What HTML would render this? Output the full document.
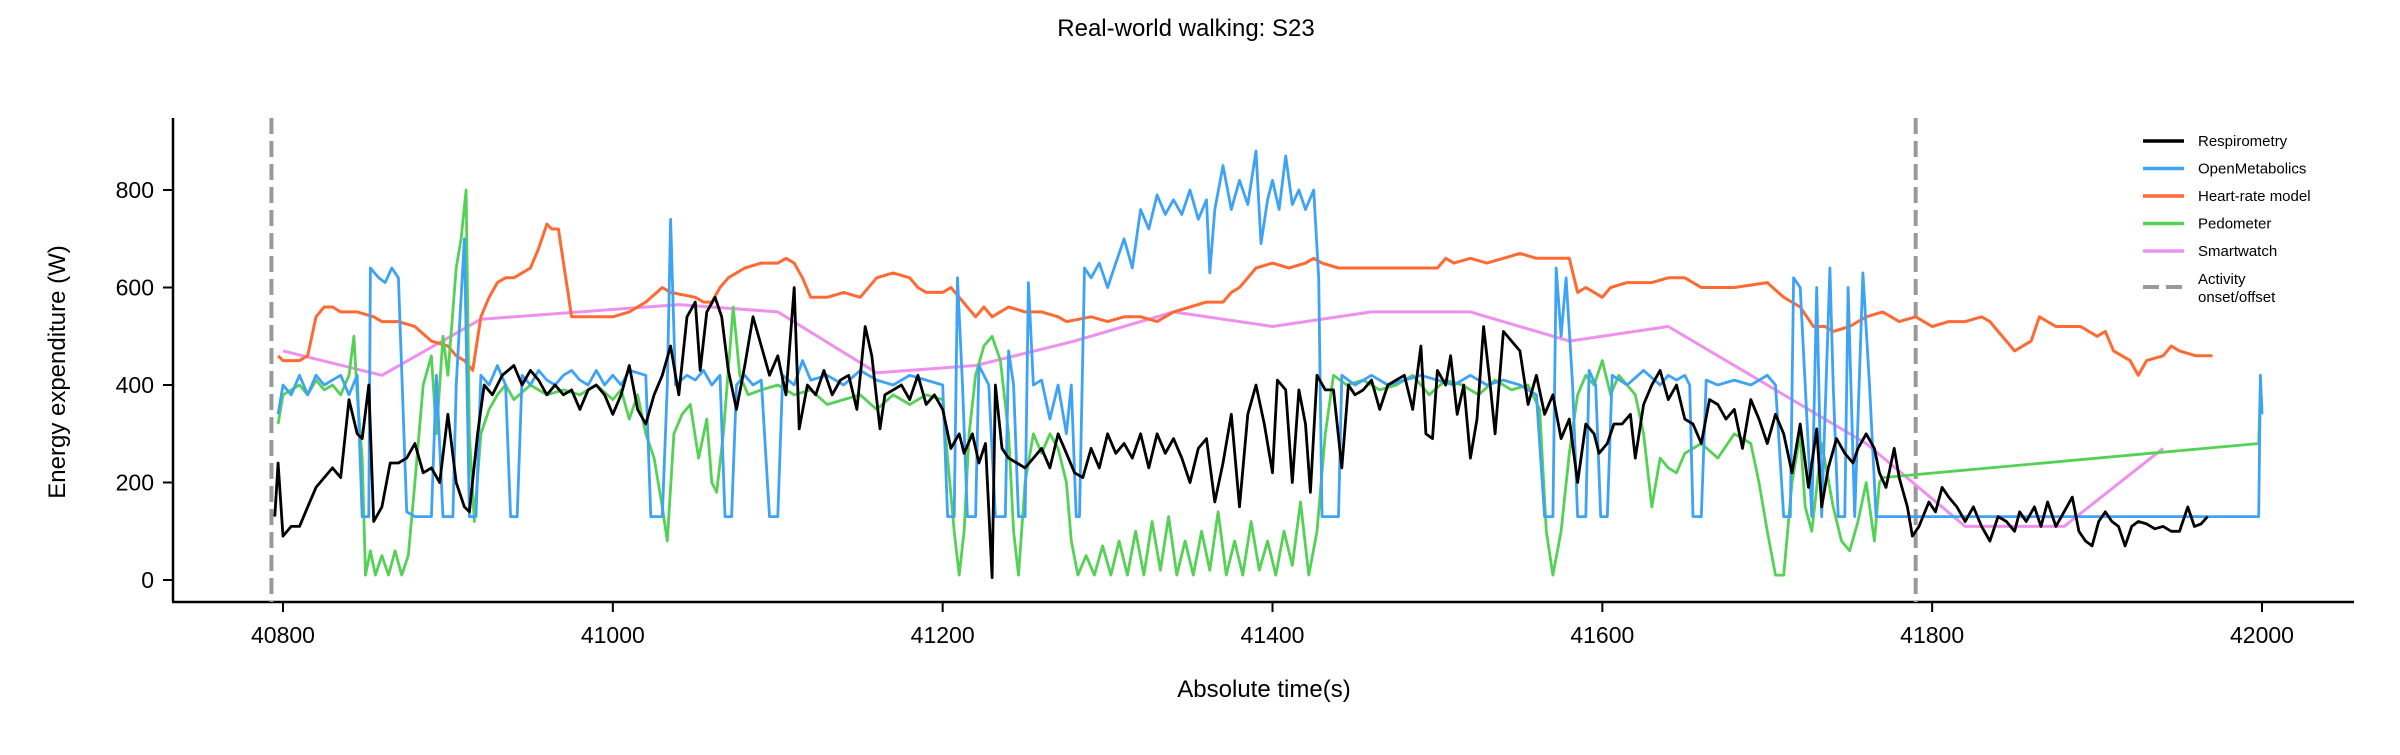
<!DOCTYPE html>
<html><head><meta charset="utf-8"><style>
body{margin:0;background:#fff;}
svg text{font-family:"Liberation Sans",sans-serif;fill:#000;}
</style></head><body>
<svg id="chart" width="2400" height="750" viewBox="0 0 2400 750" xmlns="http://www.w3.org/2000/svg">
<text x="1186" y="36" font-size="24" text-anchor="middle">Real-world walking: S23</text>
<g id="axes"></g>
<g id="plot"></g>
<g id="legend"></g>
</svg>
<script>
const xTicks=[40800,41000,41200,41400,41600,41800,42000];
const yTicks=[0,200,400,600,800];
const eventTimes=[40793,41790];
const respT=[40795,40797,40800,40805,40810,40815,40820,40825,40830,40835,40840,40845,40848,40852,40855,40860,40865,40870,40875,40880,40885,40890,40895,40900,40905,40910,40913,40918,40922,40927,40933,40940,40945,40950,40955,40960,40965,40970,40975,40980,40985,40990,40995,41000,41005,41010,41015,41020,41025,41030,41035,41040,41045,41050,41053,41057,41062,41066,41070,41075,41080,41085,41090,41095,41100,41105,41110,41113,41118,41123,41128,41133,41138,41143,41148,41153,41157,41162,41165,41170,41175,41180,41185,41190,41195,41200,41205,41210,41213,41218,41222,41226,41230,41232,41236,41240,41245,41250,41255,41260,41265,41270,41275,41280,41285,41290,41295,41300,41305,41310,41315,41320,41325,41330,41335,41340,41345,41350,41355,41360,41365,41370,41375,41380,41385,41390,41395,41400,41403,41408,41412,41416,41420,41423,41427,41432,41437,41442,41446,41450,41455,41460,41465,41470,41475,41480,41485,41490,41493,41497,41500,41505,41508,41512,41516,41520,41524,41528,41532,41535,41540,41545,41550,41555,41560,41565,41570,41575,41580,41585,41590,41595,41598,41603,41607,41612,41617,41620,41625,41630,41635,41640,41645,41650,41655,41660,41665,41670,41675,41680,41685,41690,41695,41700,41705,41710,41715,41720,41725,41730,41733,41737,41742,41747,41752,41755,41760,41765,41768,41772,41777,41780,41785,41788,41792,41798,41802,41806,41810,41815,41820,41825,41830,41835,41840,41845,41850,41853,41857,41862,41866,41870,41875,41880,41885,41889,41893,41897,41901,41905,41909,41913,41917,41921,41925,41930,41935,41940,41945,41950,41955,41959,41963,41967];
const respV=[130,240,90,110,110,150,190,210,230,210,370,300,290,400,120,150,240,240,250,280,220,230,200,340,200,150,140,300,400,380,420,440,400,430,410,380,400,380,390,350,390,400,380,340,380,440,350,320,380,420,480,380,540,570,430,550,580,540,430,350,440,540,480,420,460,380,600,310,400,380,430,380,410,420,350,520,460,310,380,390,400,370,420,360,380,350,270,300,260,300,240,280,5,400,270,250,240,230,250,270,230,300,260,220,210,270,230,300,260,280,250,300,230,300,260,290,250,200,270,290,160,240,340,150,340,400,320,220,410,390,200,390,320,180,420,390,390,230,400,380,390,410,350,400,410,420,350,480,300,290,430,400,460,340,400,250,330,520,400,300,510,490,470,360,420,340,380,290,330,200,320,300,260,280,320,320,340,250,360,400,430,370,400,330,320,280,370,360,330,350,270,370,330,280,340,300,220,320,190,310,150,230,290,260,240,270,300,270,220,190,270,210,150,90,110,160,140,190,170,150,120,150,110,80,130,120,100,140,120,150,110,160,110,140,170,100,80,70,120,140,120,110,70,110,120,115,105,110,100,100,150,110,115,130];
const omT=[40797,40800,40805,40810,40815,40820,40825,40830,40835,40840,40845,40848,40852,40853,40858,40862,40866,40870,40875,40880,40890,40893,40897,40903,40905,40910,40913,40917,40920,40925,40930,40935,40938,40942,40945,40950,40955,40960,40965,40970,40975,40980,40985,40990,40995,41000,41005,41010,41020,41023,41030,41033,41035,41038,41045,41050,41055,41060,41065,41068,41072,41075,41080,41085,41090,41095,41100,41103,41110,41115,41120,41130,41140,41150,41160,41170,41180,41190,41200,41203,41207,41209,41212,41215,41220,41222,41225,41228,41232,41238,41240,41243,41246,41250,41252,41255,41260,41265,41270,41275,41278,41281,41283,41286,41290,41295,41300,41305,41310,41315,41320,41325,41330,41335,41340,41345,41350,41355,41360,41362,41365,41370,41375,41380,41385,41390,41393,41397,41400,41404,41408,41412,41416,41420,41425,41428,41430,41440,41442,41450,41460,41470,41480,41490,41500,41510,41520,41530,41540,41550,41560,41565,41570,41572,41575,41578,41582,41585,41590,41592,41596,41599,41603,41606,41615,41625,41635,41640,41645,41650,41653,41655,41660,41663,41670,41680,41690,41700,41705,41710,41714,41716,41720,41723,41727,41730,41733,41738,41740,41743,41747,41749,41753,41758,41762,41766,41998,41999,42000];
const omV=[340,400,380,420,380,420,400,410,420,380,420,130,130,640,620,610,640,620,140,130,130,420,130,130,400,700,130,130,420,400,440,400,130,130,420,400,430,410,400,420,430,410,400,430,400,420,400,430,420,130,130,400,740,400,420,410,430,400,420,130,130,400,420,400,410,130,130,420,400,450,410,420,400,430,410,400,420,410,400,130,130,620,400,130,130,440,420,400,130,130,470,400,130,130,610,400,410,330,400,300,400,130,130,640,620,650,600,650,700,640,760,720,790,750,780,750,800,740,780,630,760,850,760,820,770,880,690,780,820,760,870,770,800,760,800,620,130,130,420,400,420,400,410,420,410,400,420,400,410,400,380,130,130,640,500,620,400,130,130,430,400,130,130,420,400,430,400,420,410,420,400,130,130,410,400,410,400,420,400,130,130,620,600,400,130,600,130,640,400,130,130,600,130,630,400,130,130,420,340];
const hrT=[40797,40800,40810,40815,40820,40825,40830,40835,40845,40855,40860,40870,40880,40890,40900,40905,40910,40915,40920,40925,40930,40935,40940,40945,40950,40955,40960,40963,40967,40975,40990,41000,41010,41020,41030,41035,41050,41055,41060,41065,41070,41075,41080,41090,41100,41105,41110,41115,41120,41130,41140,41150,41160,41170,41180,41185,41190,41200,41205,41210,41220,41225,41230,41240,41250,41260,41270,41275,41290,41300,41310,41320,41330,41340,41350,41360,41370,41375,41380,41385,41390,41400,41410,41420,41425,41430,41440,41500,41505,41510,41520,41530,41540,41550,41560,41570,41580,41585,41590,41595,41600,41605,41615,41630,41640,41650,41660,41680,41700,41710,41720,41728,41735,41740,41750,41760,41770,41780,41790,41800,41810,41820,41830,41835,41840,41845,41850,41860,41865,41875,41890,41900,41905,41910,41920,41925,41930,41940,41945,41950,41960,41970];
const hrV=[460,450,450,460,540,560,560,550,550,540,530,530,520,490,480,460,450,430,540,580,610,620,620,630,640,680,730,720,720,540,540,540,550,570,600,590,580,570,570,600,620,630,640,650,650,660,650,620,580,580,590,580,620,630,620,600,590,590,600,580,540,560,540,560,550,550,540,530,540,530,540,540,530,550,560,570,570,590,600,620,640,650,640,650,660,650,640,640,660,650,660,650,660,670,660,660,660,590,600,590,580,600,610,610,620,620,600,600,610,580,560,520,520,510,520,540,550,530,540,520,530,530,540,530,510,490,470,490,540,520,520,500,510,470,450,420,450,460,480,470,460,460];
const pedT=[40797,40800,40805,40810,40815,40820,40825,40830,40835,40840,40843,40845,40848,40850,40853,40856,40860,40864,40868,40872,40876,40880,40885,40890,40893,40897,40900,40905,40908,40911,40913,40916,40920,40925,40930,40935,40940,40950,40960,40970,40980,40990,41000,41005,41010,41015,41020,41025,41030,41033,41037,41042,41047,41052,41057,41060,41063,41067,41070,41073,41077,41082,41090,41100,41110,41120,41130,41140,41150,41160,41170,41180,41190,41200,41203,41207,41210,41213,41216,41220,41225,41230,41235,41240,41243,41246,41250,41255,41260,41265,41270,41275,41278,41282,41287,41292,41297,41302,41307,41312,41317,41322,41327,41332,41337,41342,41347,41352,41357,41362,41367,41372,41377,41382,41387,41392,41397,41402,41407,41412,41417,41422,41427,41432,41437,41445,41455,41465,41475,41485,41495,41505,41515,41525,41535,41545,41555,41562,41566,41570,41575,41580,41585,41590,41595,41600,41605,41610,41615,41620,41625,41630,41635,41640,41645,41650,41660,41670,41680,41690,41695,41700,41705,41710,41715,41720,41723,41727,41733,41740,41745,41750,41755,41760,41765,41768,41770,41998,41999,42000];
const pedV=[320,380,390,400,380,410,390,400,380,420,500,380,250,10,60,10,50,10,60,10,50,200,400,460,300,500,420,640,700,800,300,120,300,350,380,400,370,400,380,390,380,400,370,390,330,380,300,250,150,80,300,340,360,250,330,200,180,300,430,560,420,380,390,400,380,390,360,370,380,350,380,360,380,370,250,100,10,100,300,420,480,500,450,300,100,10,200,300,260,300,270,200,80,10,50,10,70,10,80,10,100,10,120,20,130,10,80,10,100,20,140,10,80,10,120,20,80,10,100,30,160,10,100,300,420,400,410,390,400,420,380,410,400,380,410,390,400,350,100,10,100,260,380,420,400,450,380,420,400,380,300,150,250,230,220,260,280,250,300,280,200,100,10,10,200,300,150,100,280,150,80,60,120,200,80,200,210,280,400,350];
const swT=[40800,40860,40920,41040,41100,41160,41220,41280,41340,41400,41460,41520,41580,41640,41700,41760,41820,41880,41940];
const swV=[470,420,535,565,550,425,440,490,550,520,550,550,490,520,400,280,110,110,270];

const X0=40800,X1=42000,PX0=283,PX1=2262;
const Y0=0,Y1=800,PY0=580,PY1=190;
function xs(t){return PX0+(t-X0)*(PX1-PX0)/(X1-X0);}
function ys(v){return PY0+(v-Y0)*(PY1-PY0)/(Y1-Y0);}
const NS='http://www.w3.org/2000/svg';
function mk(tag,parent,attrs){const e=document.createElementNS(NS,tag);for(const k in attrs)e.setAttribute(k,attrs[k]);parent.appendChild(e);return e;}
const axes=document.getElementById('axes'),plot=document.getElementById('plot'),leg=document.getElementById('legend');

let sp=mk('line',axes,{x1:173,y1:118,x2:173,y2:602,stroke:'#000','stroke-width':2.5});


sp=mk('line',axes,{x1:172,y1:602,x2:2354,y2:602,stroke:'#000','stroke-width':2.5});


xTicks.forEach(t=>{
  const x=xs(t);
  mk('line',axes,{x1:x,y1:602,x2:x,y2:612,stroke:'#000','stroke-width':2});
  const tx=mk('text',axes,{x:x,y:643,'font-size':23,'text-anchor':'middle'});
  tx.textContent=t;
  
  
});
yTicks.forEach(v=>{
  const y=ys(v);
  mk('line',axes,{x1:163,y1:y,x2:173,y2:y,stroke:'#000','stroke-width':2});
  const tx=mk('text',axes,{x:154,y:y+8,'font-size':23,'text-anchor':'end'});
  tx.textContent=v;
  
  
});
let xl=mk('text',axes,{x:1264,y:697,'font-size':24,'text-anchor':'middle'});
xl.textContent='Absolute time(s)';


let yl=mk('text',axes,{x:0,y:0,'font-size':24,'text-anchor':'middle',transform:'translate(65,372) rotate(-90)'});
yl.textContent='Energy expenditure (W)';



eventTimes.forEach(t=>{
  const l=mk('line',plot,{x1:xs(t),y1:118,x2:xs(t),y2:602,stroke:'#999','stroke-width':4,'stroke-dasharray':'16,7'});
  
  
});
function series(T,V,color,name,w){
  const pts=T.map((t,i)=>xs(t).toFixed(1)+','+ys(V[i]).toFixed(1)).join(' ');
  const p=mk('polyline',plot,{points:pts,fill:'none',stroke:color,'stroke-width':w,'stroke-linejoin':'round'});
  
  
}
series(swT,swV,'#ee90ee','smartwatch-line',3);
series(hrT,hrV,'#ff6a33','heart-rate-model-line',3);
series(pedT,pedV,'#55d155','pedometer-line',2.8);
series(omT,omV,'#3ea2f7','openmetabolics-line',2.8);
series(respT,respV,'#000000','respirometry-line',2.8);

const legNames=['Respirometry','OpenMetabolics','Heart-rate model','Pedometer','Smartwatch'];
const legColors=['#000000','#3ea2f7','#ff6a33','#55d155','#ee90ee'];
legNames.forEach((n,i)=>{
  const y=141+i*27.5;
  const g=mk('g',leg,{});
  
  
  mk('line',g,{x1:2143,y1:y,x2:2184,y2:y,stroke:legColors[i],'stroke-width':3.5});
  const tx=mk('text',g,{x:2198,y:y+5,'font-size':15});
  tx.textContent=n;
});
const g=mk('g',leg,{});


mk('line',g,{x1:2143,y1:287,x2:2184,y2:287,stroke:'#999','stroke-width':4,'stroke-dasharray':'16,7'});
let t1=mk('text',g,{x:2198,y:284,'font-size':15});t1.textContent='Activity';
let t2=mk('text',g,{x:2198,y:302,'font-size':15});t2.textContent='onset/offset';
</script>
</body></html>
